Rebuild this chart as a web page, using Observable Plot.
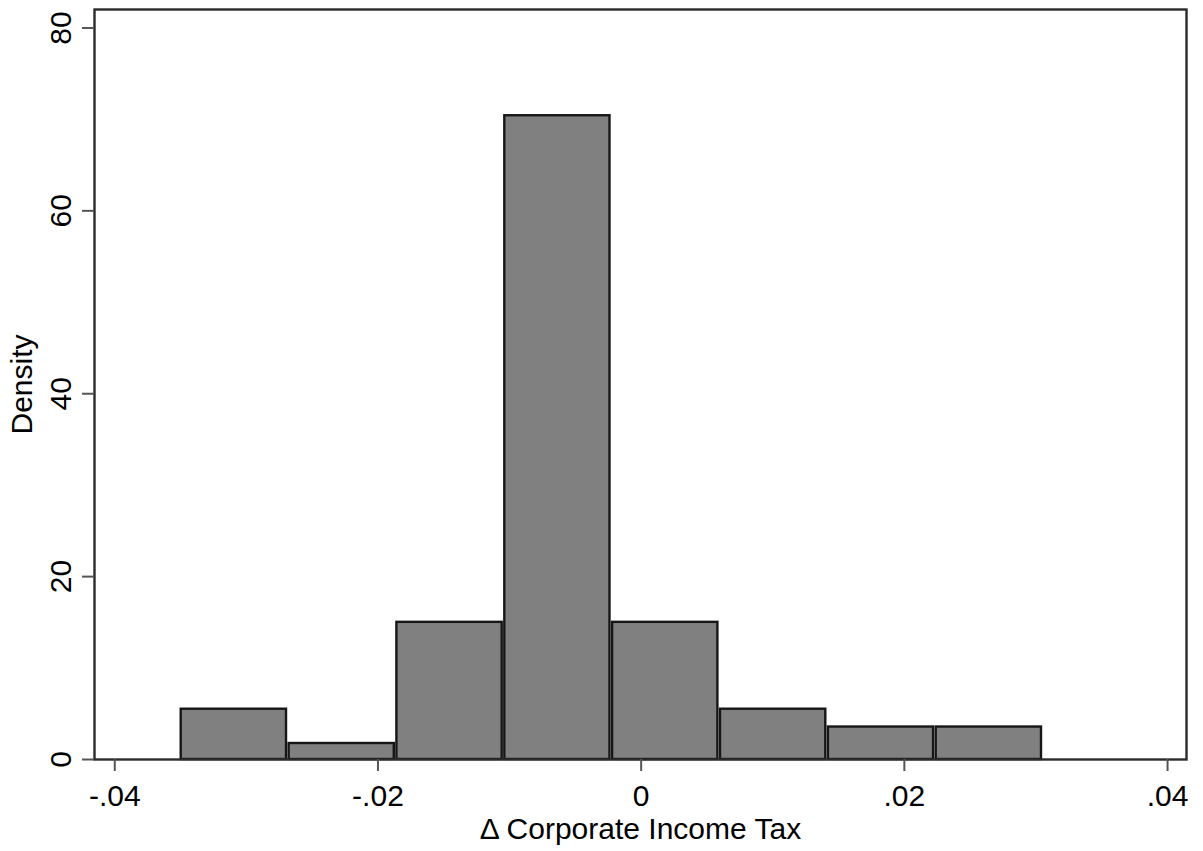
<!DOCTYPE html>
<html>
<head>
<meta charset="utf-8">
<script src="https://cdn.jsdelivr.net/npm/d3@7"></script>
<script src="https://cdn.jsdelivr.net/npm/@observablehq/plot@0.6"></script>
<style>
  html, body { margin: 0; padding: 0; background: #fff; }
  #chart svg { display: block; }
</style>
</head>
<body>
<div id="chart"></div>
<script>
// Histogram of the change in corporate income tax (density scale)
const binEdges = [-0.03505, -0.02685, -0.01866, -0.01046, -0.00227, 0.00593, 0.01413, 0.02232, 0.03052];
const densities = [5.5, 1.75, 15.0, 70.4, 15.0, 5.5, 3.55, 3.55];

const xTicks = [-0.04, -0.02, 0, 0.02, 0.04];
const xTickLabels = ["-.04", "-.02", "0", ".02", ".04"];
const yTicks = [0, 20, 40, 60, 80];
const yTickLabels = ["0", "20", "40", "60", "80"];

const bins = densities.map((d, i) => ({x1: binEdges[i], x2: binEdges[i + 1], density: d}));

const font = "'Liberation Sans', Arial, sans-serif";

const chart = Plot.plot({
  width: 1203,
  height: 851,
  marginLeft: 94,
  marginRight: 17,
  marginTop: 9,
  marginBottom: 92,
  style: {fontFamily: font, fontSize: "30px", color: "#000", background: "#fff"},
  x: {domain: [-0.04154, 0.04144]},
  y: {domain: [0, 82.02]},
  marks: [
    Plot.rectY(bins, {
      x1: "x1", x2: "x2", y: "density",
      fill: "#808080", stroke: "#161616", strokeWidth: 2.4,
      insetLeft: 1.3, insetRight: 1.3
    }),
    Plot.frame({stroke: "#2b2b2b", strokeWidth: 2.4}),
    Plot.axisX({
      ticks: xTicks,
      tickFormat: (d) => xTickLabels[xTicks.indexOf(d)],
      tickSize: 12,
      tickPadding: 13,
      stroke: "#555",
      strokeWidth: 2,
      fontSize: 30,
      label: "Δ Corporate Income Tax",
      labelAnchor: "center",
      labelArrow: "none",
      labelOffset: 79
    }),
    Plot.axisY({
      ticks: yTicks,
      tickFormat: (d) => yTickLabels[yTicks.indexOf(d)],
      tickSize: 12,
      tickPadding: 12,
      tickRotate: -90,
      stroke: "#555",
      strokeWidth: 2,
      fontSize: 30,
      label: "Density",
      labelAnchor: "center",
      labelArrow: "none",
      labelOffset: 84
    })
  ]
});

document.getElementById("chart").appendChild(chart);
</script>
</body>
</html>
